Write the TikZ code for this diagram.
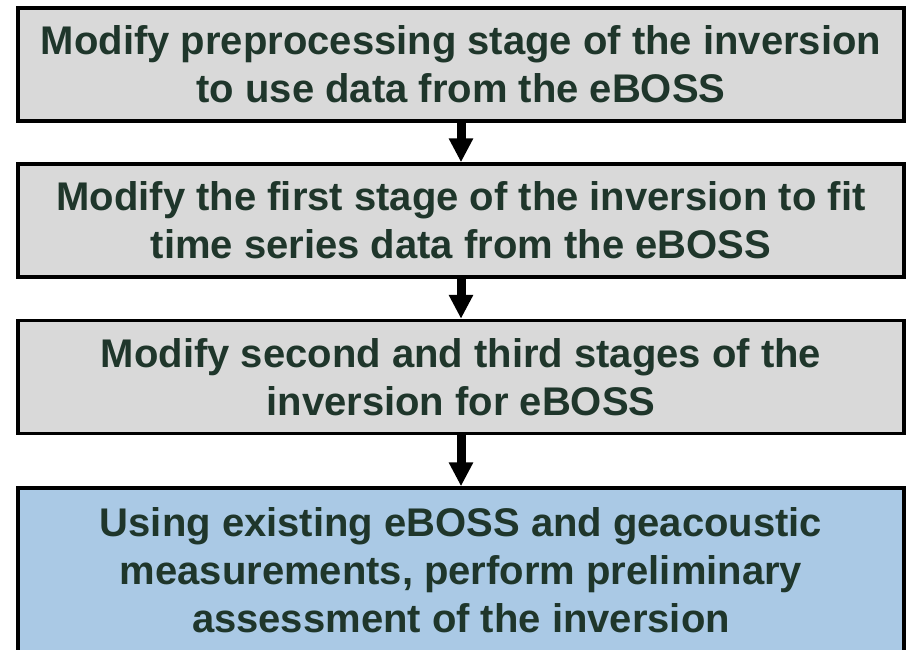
\documentclass[tikz,border=0pt]{standalone}
\usepackage{fontspec}
\setmainfont{Liberation Sans}
\usetikzlibrary{arrows.meta}
\definecolor{boxgray}{HTML}{D9D9D9}
\definecolor{boxblue}{HTML}{AAC9E5}
\definecolor{textgreen}{HTML}{1F362B}
\tikzset{
  stagebox/.style={draw=black, line width=3.5pt, fill=boxgray,
    minimum width=886pt, minimum height=113pt, inner sep=0pt,
    align=center, text=textgreen,
    font=\fontsize{40}{48}\selectfont\bfseries},
  resultbox/.style={stagebox, fill=boxblue, minimum height=164pt},
  flowarrow/.style={line width=9pt, -{Triangle[width=23pt,length=24pt]}}
}
\begin{document}
\begin{tikzpicture}[x=1pt, y=-1pt]
  \useasboundingbox (0,0) rectangle (910,649);
  \clip (0,0) rectangle (910,649);
  \fill[white] (0,0) rectangle (910,649);
  \node[stagebox] (s1) at (461,64.5) {Modify preprocessing stage of the inversion\\to use data from the eBOSS};
  \node[stagebox] (s2) at (461,220.5) {Modify the first stage of the inversion to fit\\time series data from the eBOSS};
  \node[stagebox] (s3) at (461,377) {Modify second and third stages of the\\inversion for eBOSS};
  \node[resultbox] (s4) at (461,570) {Using existing eBOSS and geacoustic\\measurements, perform preliminary\\assessment of the inversion};
  \draw[flowarrow] (s1.south) -- (s2.north);
  \draw[flowarrow] (s2.south) -- (s3.north);
  \draw[flowarrow] (s3.south) -- (s4.north);
\end{tikzpicture}
\end{document}
